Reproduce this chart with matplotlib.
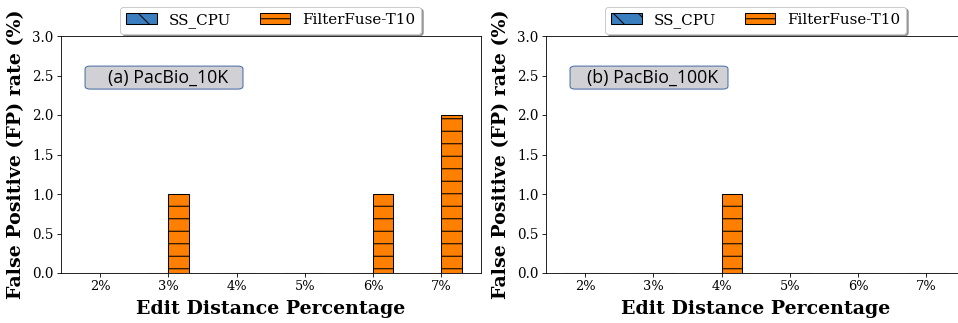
import numpy as np
import matplotlib
matplotlib.use("Agg")
import matplotlib.pyplot as plt
from matplotlib.patches import FancyBboxPatch

# Edit distance thresholds and false-positive rates (%)
categories = ["2%", "3%", "4%", "5%", "6%", "7%"]
ss_cpu_10k = [0, 0, 0, 0, 0, 0]
filterfuse_10k = [0, 1, 0, 0, 1, 2]
ss_cpu_100k = [0, 0, 0, 0, 0, 0]
filterfuse_100k = [0, 0, 1, 0, 0, 0]
panel_titles = ["(a) PacBio_10K", "(b) PacBio_100K"]
yticks = [0.0, 0.5, 1.0, 1.5, 2.0, 2.5, 3.0]

DPI = 75
W, H = 958, 323
fig = plt.figure(figsize=(W / DPI, H / DPI), dpi=DPI)

serif = "DejaVu Serif"
blue = "#3a7ebf"
orange = "#ff7f00"
width = 0.3

panels = [
    (60.7, ss_cpu_10k, filterfuse_10k, panel_titles[0]),
    (545.7, ss_cpu_100k, filterfuse_100k, panel_titles[1]),
]

x = np.arange(len(categories))
for left_px, ss, ff, title in panels:
    ax = fig.add_axes([left_px / W, (H - 273) / H, 420 / W, 237 / H])
    ax.bar(x - width / 2, ss, width, color=blue, edgecolor="black",
           hatch="\\", linewidth=1, label="SS_CPU")
    ax.bar(x + width / 2, ff, width, color=orange, edgecolor="black",
           hatch="-", linewidth=1, label="FilterFuse-T10")
    ax.set_ylim(0, 3.0)
    ax.set_yticks(yticks)
    ax.set_yticklabels([f"{v:.1f}" for v in yticks], fontfamily=serif, fontsize=13)
    ax.set_xticks(x)
    ax.set_xticklabels(categories, fontfamily=serif, fontsize=12.5)
    ax.set_xlabel("Edit Distance Percentage", fontfamily=serif,
                  fontweight="bold", fontsize=18.3, labelpad=6)
    ax.set_ylabel("False Positive (FP) rate (%)", fontfamily=serif,
                  fontweight="bold", fontsize=18.3, labelpad=7)
    ax.legend(loc="lower center", bbox_to_anchor=(0.5, 1.01), ncol=2,
              frameon=True, shadow=True, fancybox=True,
              prop={"family": serif, "size": 14.5},
              handlelength=2.0, columnspacing=1.9, borderaxespad=0)
    # panel tag in a rounded grey box
    box = FancyBboxPatch((0.058, 0.776), 0.376, 0.097,
                         boxstyle="round,pad=0,rounding_size=0.012",
                         transform=ax.transAxes, facecolor="#d1d0d4",
                         edgecolor="#4a6fa5", linewidth=1, zorder=4)
    ax.add_patch(box)
    ax.text(0.255, 0.825, title, transform=ax.transAxes, ha="center",
            va="center", fontfamily="Open Sans", fontsize=17, zorder=5)

fig.savefig("out.png", dpi=DPI)
